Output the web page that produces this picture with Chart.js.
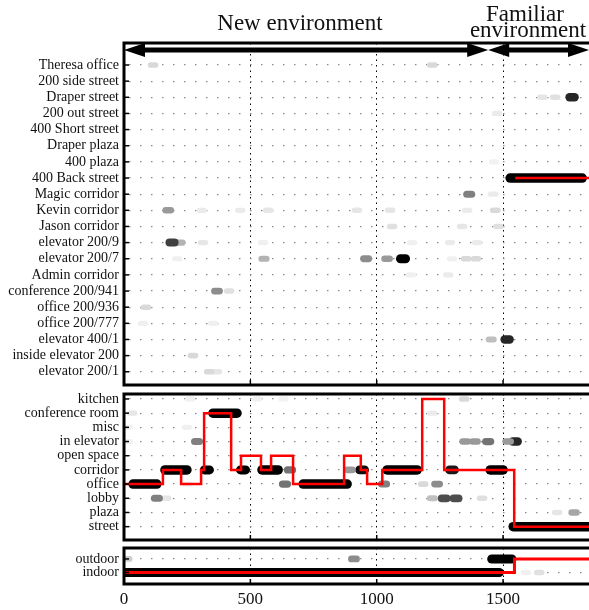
<!DOCTYPE html>
<html><head><meta charset="utf-8">
<script src="https://cdn.jsdelivr.net/npm/chart.js@4"></script>
<style>
html,body{margin:0;padding:0;background:#fff;overflow:hidden}
#wrap{position:relative;width:589px;height:610px}
canvas{position:absolute;left:0}
.t{position:absolute;font-family:'Liberation Serif','Times New Roman',serif;font-size:23px;color:#111;white-space:nowrap;text-align:center;line-height:23px}
</style></head><body>
<div id="wrap">
<canvas id="cA" width="589" height="390" style="top:0px"></canvas>
<canvas id="cB" width="589" height="156" style="top:388px"></canvas>
<canvas id="cC" width="589" height="68" style="top:542px"></canvas>
<div class="t" id="tNew" style="left:200px;top:11px;width:200px"></div>
<div class="t" id="tFam1" style="left:445px;top:2px;width:160px"></div>
<div class="t" id="tFam2" style="left:448px;top:18px;width:160px"></div>
</div>
<script>
// ---------- data ----------
const locCats = ['Theresa office','200 side street','Draper street','200 out street','400 Short street','Draper plaza','400 plaza','400 Back street','Magic corridor','Kevin corridor','Jason corridor','elevator 200/9','elevator 200/7','Admin corridor','conference 200/941','office 200/936','office 200/777','elevator 400/1','inside elevator 200','elevator 200/1'];
const roomCats = ['kitchen','conference room','misc','in elevator','open space','corridor','office','lobby','plaza','street'];
const ioCats = ['outdoor','indoor'];
const xTicks = [0, 500, 1000, 1500];
const xMax = 1840;
const envTitles = ['New environment', 'Familiar', 'environment'];
const envStart = [0, 1441];
const envEnd = [1441, 1840];

// blobs: [time, category, darkness 0..1]
const locBlobs = [
  [115,'Theresa office',0.15],[1220,'Theresa office',0.15],
  [1476,'200 out street',0.08],
  [1655,'Draper street',0.1],[1706,'Draper street',0.12],[1773,'Draper street',0.85],
  [1464,'400 plaza',0.05],
  [1366,'Magic corridor',0.5],[1461,'Magic corridor',0.08],
  [175,'Kevin corridor',0.4],[308,'Kevin corridor',0.08],[460,'Kevin corridor',0.08],[571,'Kevin corridor',0.1],[922,'Kevin corridor',0.1],[1053,'Kevin corridor',0.1],[1358,'Kevin corridor',0.08],[1469,'Kevin corridor',0.15],
  [1061,'Jason corridor',0.12],[1338,'Jason corridor',0.1],[1481,'Jason corridor',0.12],
  [190,'elevator 200/9',0.75],[222,'elevator 200/9',0.3],[313,'elevator 200/9',0.1],[550,'elevator 200/9',0.06],[1140,'elevator 200/9',0.06],[1290,'elevator 200/9',0.08],[1397,'elevator 200/9',0.08],
  [210,'elevator 200/7',0.06],[554,'elevator 200/7',0.3],[958,'elevator 200/7',0.45],[1041,'elevator 200/7',0.4],[1104,'elevator 200/7',1.0],[1298,'elevator 200/7',0.06],[1354,'elevator 200/7',0.15],[1393,'elevator 200/7',0.15],
  [1136,'Admin corridor',0.06],[1283,'Admin corridor',0.08],
  [368,'conference 200/941',0.45],[416,'conference 200/941',0.12],
  [87,'office 200/936',0.15],
  [75,'office 200/777',0.06],[353,'office 200/777',0.06],
  [1453,'elevator 400/1',0.25],[1516,'elevator 400/1',0.85],
  [273,'inside elevator 200',0.15],
  [337,'elevator 200/1',0.15],[368,'elevator 200/1',0.1]
];
const locBands = [[1528,1813,'400 Back street']];
const locPath = [[1548,'400 Back street'],[1840,'400 Back street']];

const roomBlobs = [
  [261,'kitchen',0.06],[526,'kitchen',0.06],[631,'kitchen',0.05],[1346,'kitchen',0.15],
  [32,'conference room',0.1],[1220,'conference room',0.08],
  [16,'misc',0.05],[249,'misc',0.06],
  [16,'in elevator',0.05],[289,'in elevator',0.5],[1350,'in elevator',0.4],[1389,'in elevator',0.4],[1441,'in elevator',0.55],[1520,'in elevator',0.4],[1548,'in elevator',0.85],
  [328,'corridor',1.0],[471,'corridor',1.0],[657,'corridor',0.55],[894,'corridor',0.4],[942,'corridor',0.95],[1298,'corridor',0.9],
  [250,'office',0.06],[637,'office',0.55],[1029,'office',0.5],[1184,'office',0.15],[1239,'office',0.45],
  [130,'lobby',0.5],[167,'lobby',0.1],[1220,'lobby',0.25],[1267,'lobby',0.7],[1314,'lobby',0.7],[1417,'lobby',0.12],
  [1714,'plaza',0.1],[1781,'plaza',0.35]
];
const roomBands = [[352,447,'conference room'],[162,249,'corridor'],[546,610,'corridor'],[1041,1160,'corridor'],[1449,1500,'corridor'],[36,130,'office'],[709,883,'office'],[1540,1840,'street']];
const roomPath = [[0,'office'],[154,'corridor'],[226,'office'],[305,'corridor'],[317,'conference room'],[424,'corridor'],[463,'open space'],[542,'corridor'],[582,'open space'],[669,'office'],[871,'open space'],[937,'corridor'],[962,'office'],[1022,'corridor'],[1180,'kitchen'],[1267,'corridor'],[1544,'street'],[1840,'street']];

const ioBlobs = [[12,'outdoor',0.2],[910,'outdoor',0.45],[1590,'indoor',0.06],[1643,'indoor',0.12]];
const ioBands = [[0,1485,'indoor'],[1455,1535,'outdoor']];
const ioPath = [[0,'indoor'],[1545,'outdoor'],[1840,'outdoor']];

// ---------- drawing ----------
document.getElementById('tNew').textContent = envTitles[0];
document.getElementById('tFam1').textContent = envTitles[1];
document.getElementById('tFam2').textContent = envTitles[2];

function gray(d){const v=Math.round(255*(1-d));return `rgb(${v},${v},${v})`;}
function buildSets(cats, blobs, bands, path, redW, bandW){
  const ds=[];
  ds.push({data:path.map(([x,c])=>({x,y:cats.indexOf(c)})),showLine:true,stepped:'before',borderColor:'#ff0000',borderWidth:redW,pointRadius:0,order:0});
  bands.forEach(([a,b,c])=>ds.push({data:[{x:a,y:cats.indexOf(c)},{x:b,y:cats.indexOf(c)}],showLine:true,borderColor:'#000',borderWidth:bandW,borderCapStyle:'round',pointRadius:0,order:1}));
  blobs.forEach(([x,c,d])=>{const y=cats.indexOf(c);ds.push({data:[{x:x-10,y},{x:x+10,y}],showLine:true,borderColor:gray(d),borderWidth:5+4*d,borderCapStyle:'round',pointRadius:0,order:2});});
  return ds;
}
const framePlugin={id:'frame',afterDraw(chart){
  const {ctx,chartArea:a,scales:{x,y}}=chart;
  ctx.save();ctx.strokeStyle='#000';ctx.lineWidth=3;
  ctx.beginPath();ctx.moveTo(a.right+5,a.top);ctx.lineTo(a.left,a.top);ctx.lineTo(a.left,a.bottom);ctx.lineTo(a.right+5,a.bottom);ctx.stroke();
  ctx.lineWidth=1.5;
  y.ticks.forEach(t=>{const p=y.getPixelForValue(t.value);ctx.beginPath();ctx.moveTo(a.left,p);ctx.lineTo(a.left+5,p);ctx.stroke();});
  x.ticks.forEach(t=>{const p=x.getPixelForValue(t.value);ctx.beginPath();ctx.moveTo(p,a.bottom);ctx.lineTo(p,a.bottom-5);ctx.stroke();});
  ctx.restore();
}};
const ARROW_ROW=-0.93;
const arrowPlugin={id:'arrows',afterDatasetsDraw(chart){
  const {ctx,scales:{x,y}}=chart;const py=y.getPixelForValue(ARROW_ROW);
  ctx.save();ctx.fillStyle='#000';ctx.strokeStyle='#000';ctx.lineWidth=5;
  envStart.forEach((s,i)=>{
    const x0=x.getPixelForValue(s),x1=x.getPixelForValue(envEnd[i]);const L=21,H=7;
    ctx.beginPath();ctx.moveTo(x0+L-2,py);ctx.lineTo(x1-L+2,py);ctx.stroke();
    ctx.beginPath();ctx.moveTo(x0,py);ctx.lineTo(x0+L,py-H);ctx.lineTo(x0+L,py+H);ctx.closePath();ctx.fill();
    ctx.beginPath();ctx.moveTo(x1,py);ctx.lineTo(x1-L,py-H);ctx.lineTo(x1-L,py+H);ctx.closePath();ctx.fill();
  });
  ctx.restore();
}};
function makeChart(id,cats,ds,yMin,yMax,pad,showX,extra){
  return new Chart(document.getElementById(id),{
    type:'scatter',data:{datasets:ds},
    options:{responsive:false,animation:false,devicePixelRatio:1,events:[],
      layout:{padding:{top:pad[0],bottom:pad[1],left:0,right:0}},
      plugins:{legend:{display:false},tooltip:{enabled:false},title:{display:false}},
      scales:{
        x:{type:'linear',min:0,max:xMax,
          afterBuildTicks:s=>{s.ticks=xTicks.map(v=>({value:v}));},
          ticks:{display:showX,callback:v=>String(v),font:{family:'Liberation Serif',size:17},color:'#111',padding:5,maxRotation:0,autoSkip:false},
          grid:{color:'#000',lineWidth:1,drawTicks:false},
          border:{display:false,dash:[1.5,4]},
          afterFit:s=>{s.height=showX?26:0;s.paddingLeft=0;s.paddingRight=0;}},
        y:{type:'linear',reverse:true,min:yMin,max:yMax,
          afterBuildTicks:s=>{s.ticks=cats.map((c,i)=>({value:i}));},
          ticks:{callback:v=>cats[v],font:{family:'Liberation Serif',size:14},color:'#111',padding:5,autoSkip:false},
          grid:{color:'#8a8a8a',lineWidth:1.3,drawTicks:false},
          border:{display:false,dash:[1.5,9.5],dashOffset:6},
          afterFit:s=>{s.width=124;s.paddingTop=0;s.paddingBottom=0;}}
      }},
    plugins:[framePlugin,...extra]
  });
}
makeChart('cA',locCats,buildSets(locCats,locBlobs,locBands,locPath,2.5,9.5),-1.363,19.82,[43,5],false,[arrowPlugin]);
makeChart('cB',roomCats,buildSets(roomCats,roomBlobs,roomBands,roomPath,2.5,9.5),-0.35,9.94,[6,4],false,[]);
makeChart('cC',ioCats,buildSets(ioCats,ioBlobs,ioBands,ioPath,3,9),-0.81,1.85,[6,0],true,[]);
</script>
</body></html>
